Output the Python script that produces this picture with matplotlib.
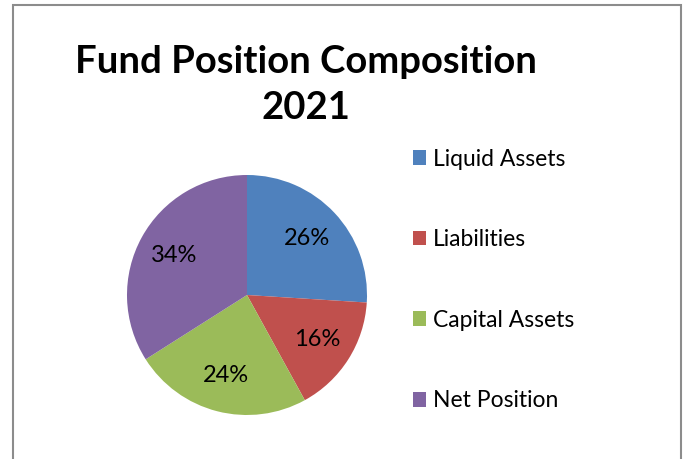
import matplotlib
matplotlib.use("Agg")
import matplotlib.pyplot as plt
from matplotlib.patches import Rectangle

categories = ["Liquid Assets", "Liabilities", "Capital Assets", "Net Position"]
shares = [26, 16, 24, 34]
colors = ["#4F81BD", "#C0504D", "#9BBB59", "#8064A2"]

plt.rcParams["font.family"] = ["Lato", "DejaVu Sans"]

W, H = 686, 459
fig = plt.figure(figsize=(W / 100, H / 100), dpi=100)

# outer frame like the spreadsheet chart area
fig.patches.append(Rectangle((13 / W, -0.05), 668 / W, 1.05 - 5 / H,
                             transform=fig.transFigure, fill=False,
                             edgecolor="#8C8C8C", linewidth=1.5))

fig.text(306 / W, 1 - 85 / H, "Fund Position Composition\n2021",
         ha="center", va="center", fontsize=27.5, fontweight="bold",
         linespacing=1.42)

cx, cy, r = 247, 295, 120
ax = fig.add_axes([(cx - r) / W, (H - cy - r) / H, 2 * r / W, 2 * r / H])
wedges, texts, autotexts = ax.pie(
    shares, colors=colors, startangle=90, counterclock=False,
    autopct="%d%%", pctdistance=0.69,
    textprops={"fontsize": 17, "color": "black"},
)
ax.set_xlim(-1, 1)
ax.set_ylim(-1, 1)

fig.legend(wedges, categories, loc="upper left",
           bbox_to_anchor=(392 / W, 1 - 128 / H), frameon=False,
           fontsize=16.5, labelspacing=2.6, handlelength=0.6,
           handleheight=0.6, handletextpad=0.3)

fig.savefig("out.png", dpi=100)
